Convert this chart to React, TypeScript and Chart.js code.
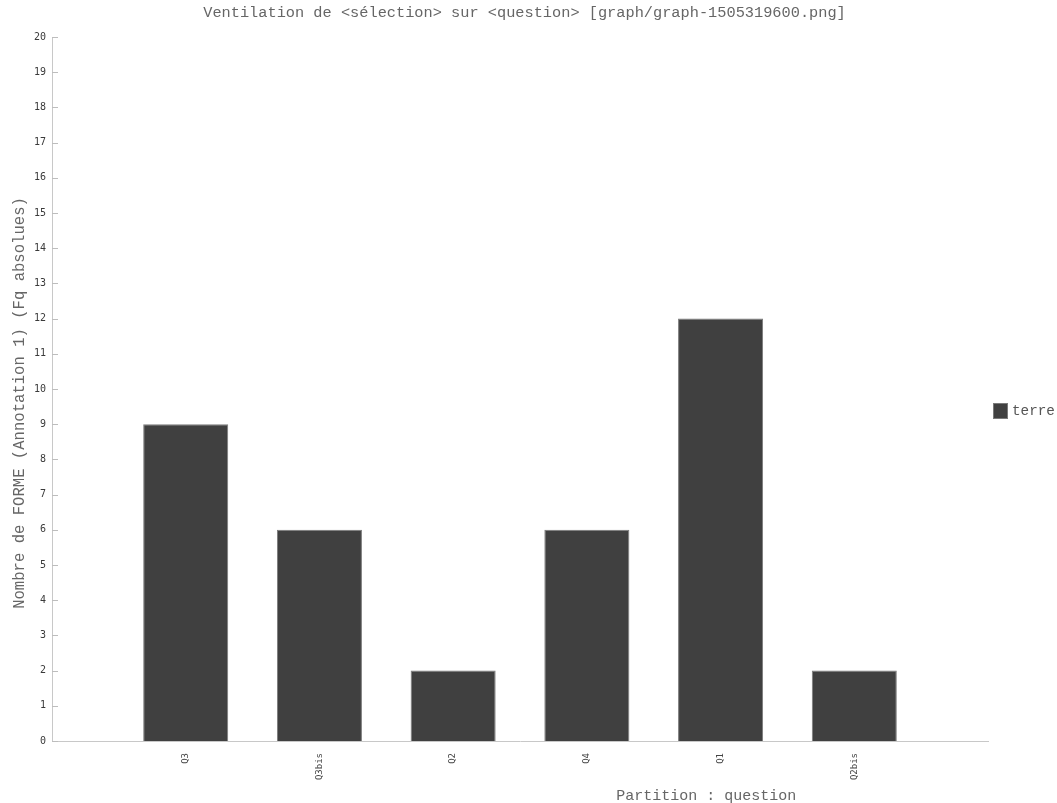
import React, { useEffect, useRef } from "react";
import { Chart, registerables } from "chart.js";

Chart.register(...registerables);

const categories = ["", "Q3", "Q3bis", "Q2", "Q4", "Q1", "Q2bis", ""];
const terreValues = [null, 9, 6, 2, 6, 12, 2, null];
const yTicks = [0, 20];
const titleText = "Ventilation de <sélection> sur <question> [graph/graph-1505319600.png]";
const xTitleText = "Partition : question";
const yTitleText = "Nombre de FORME (Annotation 1) (Fq absolues)";
const seriesName = "terre";

const MONO = "'Liberation Mono', 'DejaVu Sans Mono', monospace";
const TICKFONT = "'DejaVu Sans Mono', monospace";
const BAR_FILL = "#404040";
const BAR_EDGE = "#7a7a7a";

const decorations = {
  id: "decorations",
  afterDraw(chart: any) {
    const ctx = chart.ctx;
    const y = chart.scales.y;
    const x = chart.scales.x;
    const area = chart.chartArea;
    ctx.save();
    // title
    ctx.fillStyle = "#666";
    ctx.textAlign = "center";
    ctx.textBaseline = "middle";
    ctx.font = "15.3px " + MONO;
    ctx.fillText(titleText, chart.width / 2 - 4, 13);
    // inward tick marks on y axis
    ctx.strokeStyle = "#bdbdbd";
    ctx.lineWidth = 1;
    y.ticks.forEach((t: any) => {
      const py = Math.round(y.getPixelForValue(t.value)) + 0.5;
      ctx.beginPath();
      ctx.moveTo(y.right, py);
      ctx.lineTo(y.right + 6, py);
      ctx.stroke();
    });
    // x axis title
    ctx.font = "15px " + MONO;
    ctx.fillText(xTitleText, area.left + (area.right - area.left) * 0.699, x.bottom - 7);
    // y axis title
    ctx.save();
    ctx.translate(20, (area.top + area.bottom) / 2 + 14);
    ctx.rotate(-Math.PI / 2);
    ctx.font = "15.6px " + MONO;
    ctx.fillText(yTitleText, 0, 0);
    ctx.restore();
    // legend
    const ds = chart.data.datasets[0];
    const lx = area.right + 5;
    const ly = (area.top + area.bottom) / 2 + 22;
    ctx.fillStyle = BAR_FILL;
    ctx.fillRect(lx, ly - 8, 15, 16);
    ctx.strokeStyle = BAR_EDGE;
    ctx.strokeRect(lx + 0.5, ly - 7.5, 14, 15);
    ctx.fillStyle = "#555";
    ctx.font = "14.3px " + MONO;
    ctx.textAlign = "left";
    ctx.fillText(ds.label, lx + 19, ly);
    ctx.restore();
  },
};

export default function App() {
  const ref = useRef<HTMLCanvasElement>(null);
  useEffect(() => {
    document.body.style.margin = "0";
    const chart = new Chart(ref.current!, {
      type: "bar",
      data: {
        labels: categories,
        datasets: [
          {
            label: seriesName,
            data: terreValues as any,
            backgroundColor: BAR_FILL,
            borderColor: BAR_EDGE,
            borderWidth: 1,
            categoryPercentage: 1,
            barPercentage: 0.636,
          },
        ],
      },
      options: {
        animation: false,
        responsive: false,
        layout: { padding: { left: 0, right: 69, top: 37, bottom: 0 } },
        plugins: {
          title: { display: false },
          legend: { display: false },
          tooltip: { enabled: false },
        },
        scales: {
          x: {
            offset: false,
            grid: { display: false },
            border: { display: true, color: "#c8c8c8", width: 1 },
            ticks: {
              color: "#444",
              font: { family: TICKFONT, size: 9 },
              minRotation: 90,
              maxRotation: 90,
              autoSkip: false,
              padding: 4,
            },
            afterFit(scale: any) {
              scale.height = 62;
            },
          },
          y: {
            min: yTicks[0],
            max: yTicks[1],
            grid: { display: false, drawTicks: false },
            border: { display: true, color: "#c8c8c8", width: 1 },
            ticks: {
              stepSize: 1,
              color: "#3a3a3a",
              font: { family: TICKFONT, size: 10 },
              padding: 6,
            },
            afterFit(scale: any) {
              scale.width = 52;
            },
          },
        },
      },
      plugins: [decorations],
    });
    return () => chart.destroy();
  }, []);
  return <canvas ref={ref} width={1057} height={803} style={{ display: "block" }} />;
}
